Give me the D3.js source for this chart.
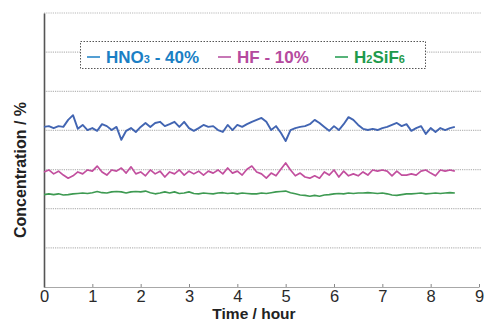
<!DOCTYPE html>
<html>
<head>
<meta charset="utf-8">
<script src="https://cdn.jsdelivr.net/npm/d3@7"></script>
<style>
  body { margin: 0; background: #fff; }
  svg { display: block; font-family: Arial, "Liberation Sans", sans-serif; }
</style>
</head>
<body>
<div id="chart"></div>
<script>
// Time axis, hours (one sample every 0.1 h)
const times = d3.range(0, 86).map(i => i / 10);

// Concentration readings, %
const hno3 = [
  40.9, 41.1, 40.6, 41.1, 40.9, 42.7, 43.9, 40.4, 41.4, 40.1,
  40.6, 39.9, 41.6, 41.1, 40.1, 40.9, 37.6, 39.9, 40.6, 39.6,
  40.9, 41.9, 40.9, 41.9, 42.2, 41.1, 41.6, 42.2, 40.9, 42.2,
  40.6, 39.9, 40.6, 41.4, 40.9, 41.1, 40.1, 39.6, 41.4, 40.1,
  41.4, 40.9, 41.6, 42.2, 42.7, 43.2, 42.2, 40.1, 41.1, 39.4,
  37.3, 40.1, 40.6, 40.9, 41.1, 41.6, 42.7, 41.9, 40.9, 39.9,
  41.1, 40.1, 41.6, 43.4, 42.7, 41.4, 40.4, 40.1, 40.4, 40.1,
  40.6, 40.9, 41.4, 41.9, 41.1, 41.6, 39.9, 40.6, 41.1, 39.1,
  40.6, 39.6, 40.6, 40.1, 40.6, 40.9
];
const hf = [
  29.4, 29.9, 28.9, 29.6, 28.6, 27.8, 28.4, 29.4, 28.9, 29.9,
  29.6, 30.9, 29.4, 28.6, 29.9, 29.6, 30.4, 29.1, 30.7, 28.9,
  29.4, 28.4, 29.9, 28.9, 29.6, 28.1, 29.4, 28.9, 29.9, 28.6,
  29.6, 28.9, 29.6, 28.6, 29.6, 29.1, 29.9, 28.9, 30.4, 29.1,
  29.6, 28.6, 30.1, 30.9, 29.4, 28.9, 27.8, 29.1, 28.4, 30.1,
  31.7, 29.9, 28.4, 29.1, 28.1, 27.8, 28.4, 27.8, 29.4, 28.6,
  29.9, 28.1, 29.6, 28.4, 28.9, 28.4, 29.4, 28.6, 29.9, 29.6,
  29.9, 29.6, 28.4, 29.6, 28.6, 28.6, 28.9, 28.6, 29.6, 29.9,
  29.1, 28.4, 29.9, 29.6, 29.9, 29.6
];
const h2sif6 = [
  23.6, 23.8, 23.6, 23.8, 23.5, 23.6, 23.8, 23.9, 24.0, 23.9,
  24.1, 24.4, 24.1, 24.0, 24.3, 24.4, 24.3, 24.0, 24.3, 24.4,
  24.3, 24.5, 24.1, 23.8, 24.0, 24.3, 24.0, 24.3, 23.9, 24.0,
  24.3, 23.9, 23.8, 24.0, 23.9, 23.8, 24.0, 24.1, 23.9, 24.0,
  23.8, 24.0, 23.9, 23.8, 23.8, 24.0, 23.9, 24.1, 24.3, 24.4,
  24.5, 24.1, 23.8, 23.5, 23.4, 23.2, 23.4, 23.2, 23.5, 23.6,
  23.8, 23.9, 23.8, 24.0, 23.9, 24.0, 24.0, 24.1, 24.0, 23.9,
  24.0, 23.8, 23.5, 23.4, 23.6, 23.8, 23.8, 23.9, 24.0, 23.8,
  23.9, 24.0, 23.9, 24.0, 24.1, 24.0
];

const xTicks = [0, 1, 2, 3, 4, 5, 6, 7, 8, 9];
const gridValues = [10, 20, 30, 40, 50, 60, 70];

const series = [
  { name: 'HNO3', values: hno3, color: '#4265b2', w: 1.9 },
  { name: 'HF', values: hf, color: '#c24f9e', w: 1.7 },
  { name: 'H2SiF6', values: h2sif6, color: '#3e9a52', w: 1.6 }
];

const width = 487, height = 321;
const margin = { top: 13, right: 8, bottom: 34, left: 44 };

const svg = d3.select('#chart').append('svg')
  .attr('width', width)
  .attr('height', height);

const x = d3.scaleLinear()
  .domain([0, 9])
  .range([margin.left, width - margin.right]);

const y = d3.scaleLinear()
  .domain([0, 70])
  .range([height - margin.bottom, margin.top]);

// dotted gridlines
svg.append('g')
  .selectAll('line')
  .data(gridValues)
  .join('line')
  .attr('x1', margin.left)
  .attr('x2', width - margin.right + 2)
  .attr('y1', d => y(d))
  .attr('y2', d => y(d))
  .attr('stroke', '#b8b8b8')
  .attr('stroke-width', 1.2)
  .attr('stroke-dasharray', '1.2,1');

// x axis
const xAxis = svg.append('g')
  .attr('transform', `translate(0,${y(0)})`)
  .call(d3.axisBottom(x)
    .tickValues(xTicks)
    .tickFormat(d3.format('d'))
    .tickSizeInner(-3)
    .tickSizeOuter(0)
    .tickPadding(3));
xAxis.select('.domain').attr('stroke', '#a8a8a8').attr('stroke-width', 1.2);
xAxis.selectAll('.tick line').attr('stroke', '#888');
xAxis.selectAll('.tick text')
  .attr('font-size', 16.5)
  .attr('font-family', 'Arial, "Liberation Sans", sans-serif')
  .attr('fill', '#2a2a2a');

// y axis, line only
const yAxis = svg.append('g')
  .attr('transform', `translate(${margin.left},0)`)
  .call(d3.axisLeft(y).tickValues([]).tickSizeOuter(0));
yAxis.select('.domain').attr('stroke', '#555').attr('stroke-width', 1.6);

// series lines
const line = d3.line()
  .x((v, i) => x(times[i]))
  .y(v => y(v));

svg.append('g')
  .selectAll('path')
  .data(series)
  .join('path')
  .attr('fill', 'none')
  .attr('stroke', d => d.color)
  .attr('stroke-width', d => d.w)
  .attr('stroke-linejoin', 'round')
  .attr('d', d => line(d.values));

// axis titles
svg.append('text')
  .attr('x', 254)
  .attr('y', 319)
  .attr('text-anchor', 'middle')
  .attr('font-size', 15.5)
  .attr('font-weight', 'bold')
  .attr('fill', '#222')
  .text('Time / hour');

svg.append('text')
  .attr('transform', 'translate(26,170) rotate(-90)')
  .attr('text-anchor', 'middle')
  .attr('font-size', 16)
  .attr('font-weight', 'bold')
  .attr('fill', '#222')
  .text('Concentration / %');

// legend
const legend = svg.append('g');
legend.append('rect')
  .attr('x', 80.5)
  .attr('y', 41.5)
  .attr('width', 345)
  .attr('height', 27)
  .attr('fill', '#fff')
  .attr('stroke', '#555')
  .attr('stroke-width', 1)
  .attr('stroke-dasharray', '1.5,1.5');

const legendItems = [
  { x: 87, color: '#1b7fc4', parts: [['HNO', false], ['3', true], [' - 40%', false]] },
  { x: 218, color: '#b54a9e', parts: [['HF - 10%', false]] },
  { x: 335, color: '#1e9a4c', parts: [['H', false], ['2', true], ['SiF', false], ['6', true]] }
];

legendItems.forEach(item => {
  legend.append('line')
    .attr('x1', item.x)
    .attr('x2', item.x + 13)
    .attr('y1', 57)
    .attr('y2', 57)
    .attr('stroke', item.color)
    .attr('stroke-width', 1.5);
  const t = legend.append('text')
    .attr('x', item.x + 19)
    .attr('y', 63)
    .attr('font-size', 17)
    .attr('font-weight', 'bold')
    .attr('fill', item.color);
  item.parts.forEach(p => {
    t.append('tspan')
      .attr('font-size', p[1] ? 11 : 17)
      .text(p[0]);
  });
});
</script>
</body>
</html>
